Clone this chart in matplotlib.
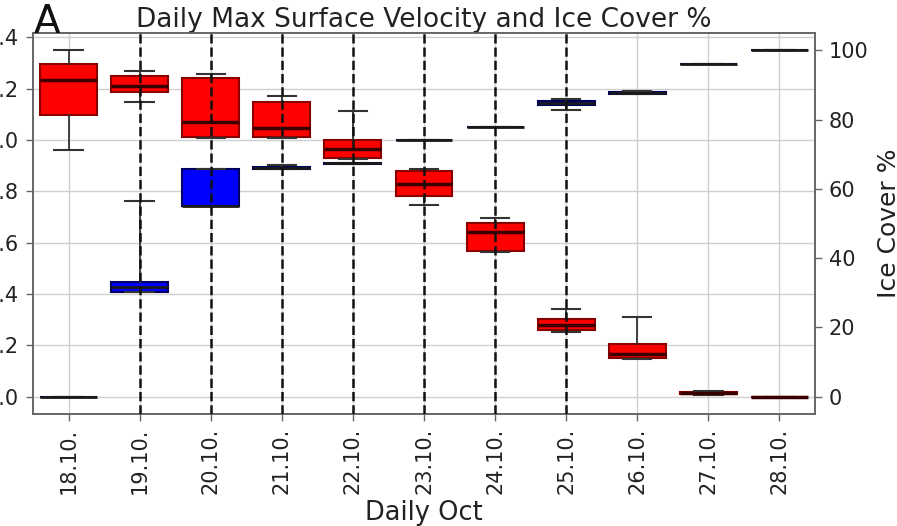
import matplotlib
matplotlib.use("Agg")
import matplotlib.pyplot as plt

plt.rcParams['font.family'] = ['DejaVu Sans']

days = ['18.10.', '19.10.', '20.10.', '21.10.', '22.10.', '23.10.',
        '24.10.', '25.10.', '26.10.', '27.10.', '28.10.']

# Daily max surface velocity (left axis)
vel_lo = [0.963, 1.147, 1.010, 1.010, 0.925, 0.749, 0.565, 0.254, 0.148, 0.008, 0.0]
vel_q1 = [1.096, 1.186, 1.014, 1.014, 0.932, 0.784, 0.569, 0.261, 0.152, 0.010, 0.0]
vel_med = [1.236, 1.209, 1.069, 1.049, 0.967, 0.830, 0.640, 0.281, 0.168, 0.015, 0.0]
vel_q3 = [1.295, 1.248, 1.244, 1.147, 1.002, 0.881, 0.675, 0.304, 0.207, 0.020, 0.0]
vel_hi = [1.350, 1.271, 1.256, 1.170, 1.112, 0.889, 0.698, 0.343, 0.312, 0.022, 0.0]

# Ice cover % (right axis)
ice_lo = [0.0, 30.3, 55.0, 65.8, 67.2, 74.1, 77.8, 82.7, 87.4, 96.0, 100.0]
ice_q1 = [0.0, 30.3, 55.0, 65.8, 67.2, 74.1, 77.8, 84.1, 87.5, 96.0, 100.0]
ice_med = [0.0, 31.7, 55.0, 66.0, 67.4, 74.1, 77.8, 84.7, 87.6, 96.0, 100.0]
ice_q3 = [0.0, 33.1, 65.7, 66.3, 67.6, 74.1, 77.8, 85.3, 88.0, 96.0, 100.0]
ice_hi = [0.0, 56.5, 65.7, 67.0, 67.6, 74.1, 77.8, 85.9, 88.2, 96.0, 100.0]

# days marked with dashed vertical lines
marked_days = ['19.10.', '20.10.', '21.10.', '22.10.', '23.10.', '24.10.', '25.10.']

W, H = 897, 526
fig = plt.figure(figsize=(W / 100, H / 100), dpi=100)
L, R, T, B = 33, 815, 33, 414
ax = fig.add_axes([L / W, (H - B) / H, (R - L) / W, (B - T) / H])
ax2 = ax.twinx()

pos = list(range(len(days)))

def stats(lo, q1, med, q3, hi):
    return [dict(whislo=a, q1=b, med=c, q3=d, whishi=e, fliers=[])
            for a, b, c, d, e in zip(lo, q1, med, q3, hi)]

wcol = '#333333'
ax.bxp(stats(vel_lo, vel_q1, vel_med, vel_q3, vel_hi), positions=pos, widths=0.8,
       patch_artist=True, showfliers=False,
       boxprops=dict(facecolor='#ff0000', edgecolor='#8a0000', linewidth=1.5),
       medianprops=dict(color='#3a0000', linewidth=2.5),
       whiskerprops=dict(color=wcol, linewidth=1.3),
       capprops=dict(color=wcol, linewidth=1.5))

ax2.bxp(stats(ice_lo, ice_q1, ice_med, ice_q3, ice_hi), positions=pos, widths=0.8,
        patch_artist=True, showfliers=False,
        boxprops=dict(facecolor='#0000ff', edgecolor='#000060', linewidth=1.5),
        medianprops=dict(color='#1a1a1a', linewidth=2.0),
        whiskerprops=dict(color=wcol, linewidth=1.3),
        capprops=dict(color=wcol, linewidth=1.5))

for d in marked_days:
    ax2.axvline(days.index(d), color='#111111', linestyle='--', linewidth=1.8, zorder=5)

ax.set_xlim(-0.5, len(days) - 0.5)
ax.set_ylim(-0.0675, 1.4175)
ax2.set_ylim(-5, 105)
ax.set_yticks([0.0, 0.2, 0.4, 0.6, 0.8, 1.0, 1.2, 1.4])
ax2.set_yticks([0, 20, 40, 60, 80, 100])
ax.set_xticks(pos)
ax.set_xticklabels(days, rotation=90)

ax.grid(True, color='#d0d0d0', linewidth=1.0)
ax.set_axisbelow(True)
for a in (ax, ax2):
    for s in a.spines.values():
        s.set_color('#666666')
        s.set_linewidth(1.2)
    a.tick_params(labelsize=15, colors='#222222', length=5, width=1, pad=5)
    a.tick_params(axis='both', color='#666666')

ax.set_title('Daily Max Surface Velocity and Ice Cover %', fontsize=19,
             color='#222222', pad=4.5)
ax.set_xlabel('Daily Oct', fontsize=18.5, color='#222222', labelpad=4)
ax2.set_ylabel('Ice Cover %', fontsize=18, color='#222222', labelpad=6)

fig.text(34 / W, (H - 33) / H, 'A', fontsize=28, color='#111111',
         ha='left', va='baseline')

fig.savefig('out.png', dpi=100)
